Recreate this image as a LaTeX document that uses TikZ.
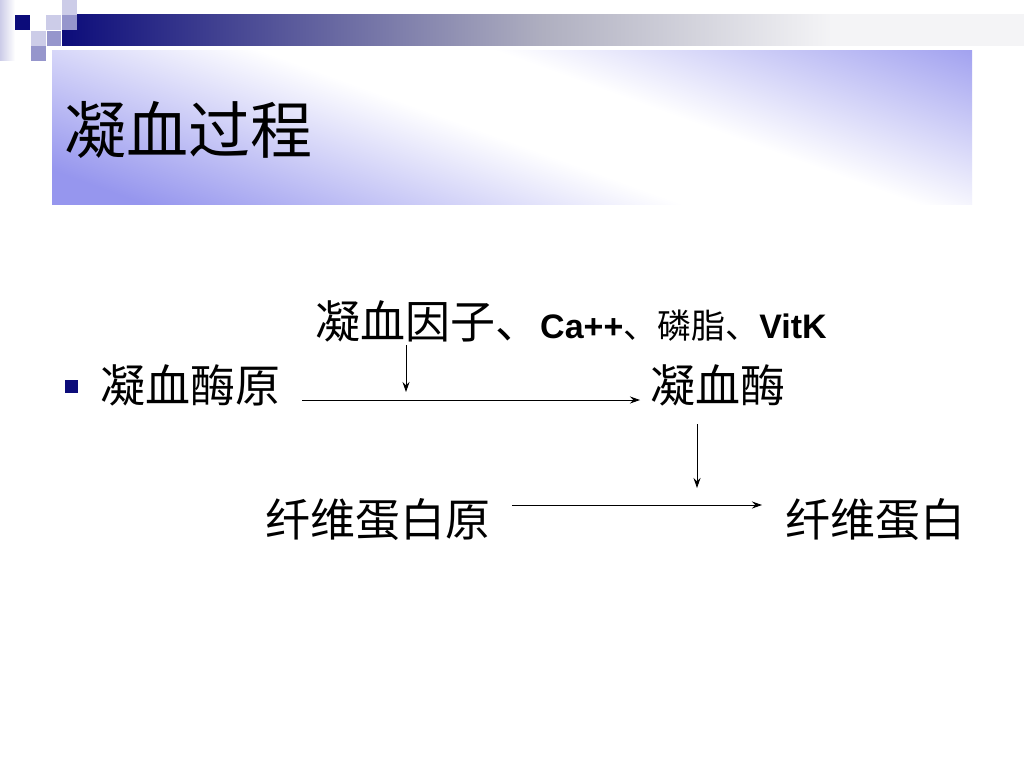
\documentclass[tikz,border=0pt]{standalone}
\usepackage{fontspec}
\setmainfont{Liberation Sans}
\newfontfamily\cjk{Noto Sans CJK SC}
\usetikzlibrary{arrows.meta}
\definecolor{navy}{RGB}{12,12,122}
\definecolor{lightsq}{RGB}{204,204,232}
\definecolor{medsq}{RGB}{150,150,204}
\definecolor{lav}{RGB}{150,150,238}
\definecolor{bargray}{RGB}{175,175,192}
\definecolor{barlight}{RGB}{244,244,246}
\pgfdeclarehorizontalshading{barshade}{100bp}{color(0bp)=(navy); color(25bp)=(navy); color(50bp)=(bargray); color(65bp)=(barlight); color(100bp)=(barlight)}
\pgfdeclareverticalshading{bandshade}{100bp}{color(0bp)=(lav); color(36bp)=(lav); color(47.5bp)=(white); color(52.5bp)=(white); color(64bp)=(lav); color(100bp)=(lav)}
\tikzset{
  txt/.style={inner sep=0pt, anchor=base west, font=\cjk\fontsize{45}{50}\selectfont},
  arr/.style={draw=black, line width=0.9pt, -{Stealth[length=10pt,width=7pt]}},
}
\newcommand{\smallcjk}{\fontsize{34}{38}\selectfont}
\newcommand{\smalllat}{\fontsize{34}{38}\selectfont\bfseries\rmfamily}
\begin{document}
\begin{tikzpicture}[x=1pt,y=-1pt]
\useasboundingbox (0,0) rectangle (1024,768);
\fill[white] (0,0) rectangle (1024,768);
% top decoration
\shade[left color=lightsq, right color=white] (0,0) rectangle (15,60);
\shade[shading=barshade] (62,15) rectangle (1024,46);
\fill[navy] (15,15) rectangle (30,30);
\fill[lightsq] (62,0) rectangle (77,15);
\fill[lightsq] (46,15) rectangle (61,30);
\fill[medsq] (62,15) rectangle (77,30);
\fill[lightsq] (31,31) rectangle (46,46);
\fill[medsq] (47,31) rectangle (61,46);
\fill[medsq] (31,46) rectangle (46,61);
% title band
\begin{scope}
\clip (52,51) rectangle (972,204);
\begin{scope}[transform canvas={shift={(590,127.5)}, rotate=-20}]
\shade[shading=bandshade] (-700,-400) rectangle (700,400);
\end{scope}
\end{scope}
\node[txt, font=\cjk\fontsize{62}{66}\selectfont] (title) at (64,153) {凝血过程};
% bullet
\fill[navy] (65,380) rectangle (78,393);
% nodes
\node[txt] (c) at (315,338) {凝血因子、{\smalllat Ca++}{\smallcjk 、磷脂、}{\smalllat VitK}};
\node[txt] (a) at (100,402) {凝血酶原};
\node[txt] (b) at (650,402) {凝血酶};
\node[txt] (d) at (265,536) {纤维蛋白原};
\node[txt] (e) at (785,536) {纤维蛋白};
\coordinate (m1) at (406,345);
\coordinate (m2) at (406,392);
\coordinate (n1) at (697,424);
\coordinate (n2) at (697,488);
% connectors
\draw[arr] ([xshift=22pt,yshift=2pt]a.base east) -- ([xshift=-10pt,yshift=2pt]b.base west);
\draw[arr] (m1) -- (m2);
\draw[arr] (n1) -- (n2);
\draw[arr] ([xshift=22pt,yshift=31pt]d.base east) -- ([xshift=-23pt,yshift=31pt]e.base west);
\end{tikzpicture}
\end{document}
